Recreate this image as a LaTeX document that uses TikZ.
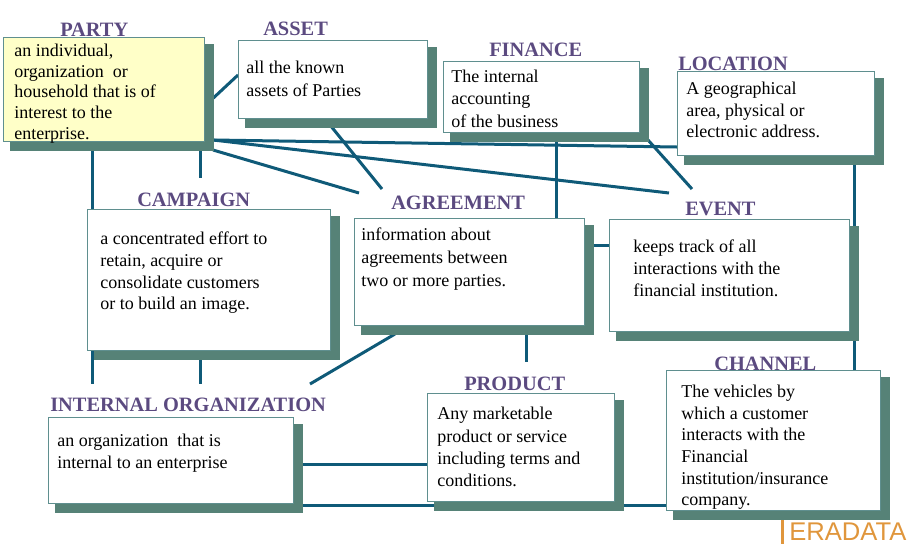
\documentclass[tikz,border=0pt]{standalone}
\usepackage{fontspec}
\setmainfont{Liberation Serif}
\setsansfont{Liberation Sans}
\usetikzlibrary{shadows,backgrounds}
\definecolor{shadowgreen}{HTML}{568277}
\definecolor{linkblue}{HTML}{0F5A78}
\definecolor{titlepurple}{HTML}{5B4A80}
\definecolor{boxedge}{HTML}{5F8F8F}
\definecolor{partyfill}{HTML}{FFFFC8}
\definecolor{logoorange}{HTML}{E0963C}
\tikzset{
  entitybox/.style 2 args={draw=boxedge, line width=1pt, fill=white, anchor=north west, inner sep=0pt,
    minimum width=#1*0.75pt, minimum height=#2*0.75pt,
    general shadow={shadow xshift=6pt, shadow yshift=-6pt, fill=shadowgreen, draw=shadowgreen, line width=2pt}},
  entitytitle/.style={anchor=base west, inner sep=0pt, text=titlepurple, font=\fontsize{15.3}{18}\selectfont\bfseries},
  bodytext/.style={anchor=north west, inner sep=0pt, align=left, execute at begin node=\strut, font=\fontsize{13.5}{#1}\selectfont},
  bodytext/.default=16.5,
  link/.style={draw=linkblue, line width=2.25pt}
}
\begin{document}
\begin{tikzpicture}[x=0.75pt, y=-0.75pt]
    \useasboundingbox (0,0) rectangle (908,547);

    % Titles, the boxes sit over their lower edge
    \node[entitytitle] (partytitle) at (60,36) {PARTY};
    \node[entitytitle] (assettitle) at (263,35) {ASSET};
    \node[entitytitle] (financetitle) at (489,56) {FINANCE};
    \node[entitytitle] (locationtitle) at (678,70) {LOCATION};
    \node[entitytitle] (campaigntitle) at (137,206) {CAMPAIGN};
    \node[entitytitle] (agreementtitle) at (391,209) {AGREEMENT};
    \node[entitytitle] (eventtitle) at (685,215) {EVENT};
    \node[entitytitle] (internaltitle) at (50,411) {INTERNAL ORGANIZATION};
    \node[entitytitle] (producttitle) at (464,390) {PRODUCT};
    \node[entitytitle] (channeltitle) at (714,370) {CHANNEL};

    % Boxes
    \node[entitybox={201}{104}, fill=partyfill] (party) at (3,37) {};
    \node[entitybox={189}{78}] (asset) at (238,40) {};
    \node[entitybox={196}{71}] (finance) at (443,61) {};
    \node[entitybox={197}{84}] (location) at (677,71) {};
    \node[entitybox={243}{141}] (campaign) at (87,209) {};
    \node[entitybox={230}{107}] (agreement) at (354,218) {};
    \node[entitybox={240}{112}] (event) at (609,219) {};
    \node[entitybox={245}{86}] (internal) at (48,417) {};
    \node[entitybox={187}{108}] (product) at (427,393) {};
    \node[entitybox={214}{140}] (channel) at (666,370) {};

    % Box texts
    \node[bodytext=15.6] (partytext) at (14,43.5) {an individual,\\organization\ \ or\\household that is of\\interest to the\\enterprise.};
    \node[bodytext=17] (assettext) at (246,61) {all the known\\assets of Parties};
    \node[bodytext=16.6] (financetext) at (451,70) {The internal\\accounting\\of the business};
    \node[bodytext=16] (locationtext) at (686,82) {A geographical\\area, physical or\\electronic address.};
    \node[bodytext=16.2] (campaigntext) at (100,232) {a concentrated effort to\\retain, acquire or\\consolidate customers\\or to build an image.};
    \node[bodytext=17] (agreementtext) at (361,228) {information about\\agreements between\\two or more parties.};
    \node[bodytext] (eventtext) at (633,240) {keeps track of all\\interactions with the\\financial institution.};
    \node[bodytext] (internaltext) at (57,434) {an organization\ \ that is\\internal to an enterprise};
    \node[bodytext=16.8] (producttext) at (437,407) {Any marketable\\product or service\\including terms and\\conditions.};
    \node[bodytext=16.2] (channeltext) at (681,385) {The vehicles by\\which a customer\\interacts with the\\Financial\\institution/insurance\\company.};

    % Logo
    \node[anchor=base west, inner sep=0pt, text=logoorange, font=\fontsize{19.2}{22}\sffamily] (logo) at (789,540) {ERADATA};
    \coordinate (logobartop) at (782,520);
    \coordinate (logobarend) at (782,544);
    \draw[logoorange, line width=2.25pt] (logobartop) -- (logobarend);

    % Free ends of the links
    \coordinate (assetend) at (382,189);
    \coordinate (partyagreeend) at (359,193);
    \coordinate (partyeventend) at (669,193);
    \coordinate (financeeventend) at (692,189);
    \coordinate (partyleftend) at (92,384);
    \coordinate (partymidend) at (200,178);
    \coordinate (campaignend) at (200,384);
    \coordinate (agreementend) at (310,384);
    \coordinate (agreementstart) at (395,334);
    \coordinate (productstart) at (526,362);
    \coordinate (assetstart) at (330,125);
    \coordinate (financeevent) at (648,140);
    \coordinate (partyasset) at (208,103);
    \coordinate (assetparty) at (238,75);
    \coordinate (partylocation) at (677,147);
    \coordinate (partycorner) at (213,150);
    \coordinate (partyline) at (213,140);
    \coordinate (financeagree) at (556,218);
    \coordinate (agreeevent) at (593,245);
    \coordinate (eventagree) at (609,245);
    \coordinate (locationchannel) at (854,164);
    \coordinate (internalproduct) at (301,464);
    \coordinate (productinternal) at (427,464);
    \coordinate (internalchannel) at (301,505);
    \coordinate (channelinternal) at (666,505);

    % Links run behind the boxes
    \begin{pgfonlayer}{background}
    \draw[link] (partyasset) -- (assetparty);
    \draw[link] (assetstart) -- (assetend);
    \draw[link] (partyline) -- (partylocation);
    \draw[link] (partyline) -- (partyeventend);
    \draw[link] (partycorner) -- (partyagreeend);
    \draw[link] (partyleftend |- party.south) -- (partyleftend);
    \draw[link] (partymidend |- party.south) -- (partymidend);
    \draw[link] (campaignend |- campaign.south) -- (campaignend);
    \draw[link] (financeevent) -- (financeeventend);
    \draw[link] (financeagree |- finance.south) -- (financeagree |- agreement.north);
    \draw[link] (agreeevent) -- (eventagree);
    \draw[link] (agreementstart) -- (agreementend);
    \draw[link] (productstart |- agreement.south) -- (productstart);
    \draw[link] (locationchannel |- location.south) -- (locationchannel |- channel.north);
    \draw[link] (internalproduct) -- (productinternal);
    \draw[link] (internalchannel) -- (channelinternal);
    \end{pgfonlayer}
\end{tikzpicture}
\end{document}
